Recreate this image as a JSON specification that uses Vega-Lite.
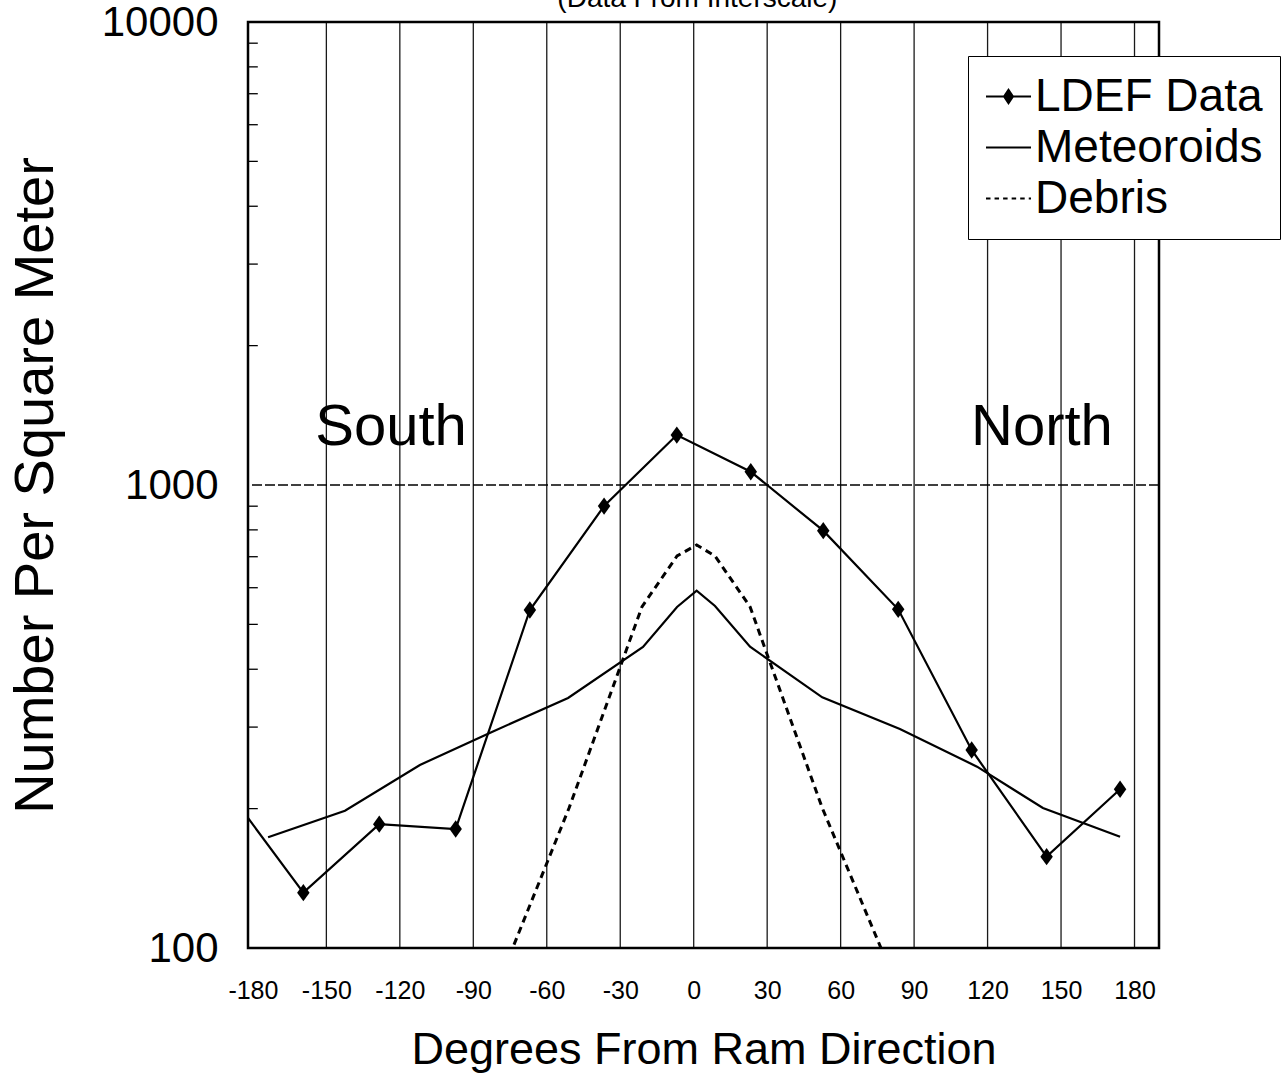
{
  "$schema": "https://vega.github.io/schema/vega-lite/v6.json",
  "width": 911,
  "height": 926,
  "autosize": {"type": "none"},
  "padding": {"left": 248, "top": 22, "right": 123, "bottom": 135},
  "background": "white",
  "config": {
    "font": "Liberation Sans",
    "view": {"stroke": "black", "strokeWidth": 2.5},
    "axis": {"labelColor": "black", "titleColor": "black", "labelFont": "Liberation Sans", "titleFont": "Liberation Sans", "titleFontWeight": "normal"}
  },
  "datasets": {
    "curves": [
      {"series": "LDEF Data", "angle": -182, "value": 190.9},
      {"series": "LDEF Data", "angle": -159.4, "value": 131.7},
      {"series": "LDEF Data", "angle": -128.4, "value": 185.1},
      {"series": "LDEF Data", "angle": -97.2, "value": 180.7},
      {"series": "LDEF Data", "angle": -66.9, "value": 537},
      {"series": "LDEF Data", "angle": -36.6, "value": 900.5},
      {"series": "LDEF Data", "angle": -6.9, "value": 1282},
      {"series": "LDEF Data", "angle": 23.3, "value": 1068},
      {"series": "LDEF Data", "angle": 52.9, "value": 796.8},
      {"series": "LDEF Data", "angle": 83.5, "value": 538.9},
      {"series": "LDEF Data", "angle": 113.5, "value": 267.7},
      {"series": "LDEF Data", "angle": 144.1, "value": 157.5},
      {"series": "LDEF Data", "angle": 174.1, "value": 220.2},
      {"series": "Meteoroids", "angle": -173.8, "value": 173.4},
      {"series": "Meteoroids", "angle": -142.4, "value": 197.9},
      {"series": "Meteoroids", "angle": -111.8, "value": 248.5},
      {"series": "Meteoroids", "angle": -82.4, "value": 292.8},
      {"series": "Meteoroids", "angle": -51.3, "value": 346.7},
      {"series": "Meteoroids", "angle": -20.7, "value": 446.8},
      {"series": "Meteoroids", "angle": -6.8, "value": 545.2},
      {"series": "Meteoroids", "angle": 1.2, "value": 591.1},
      {"series": "Meteoroids", "angle": 8.7, "value": 548},
      {"series": "Meteoroids", "angle": 23.0, "value": 447.5},
      {"series": "Meteoroids", "angle": 52.5, "value": 347.9},
      {"series": "Meteoroids", "angle": 84.2, "value": 297.2},
      {"series": "Meteoroids", "angle": 115.7, "value": 246.4},
      {"series": "Meteoroids", "angle": 142.6, "value": 200.6},
      {"series": "Meteoroids", "angle": 174.1, "value": 173.9},
      {"series": "Debris", "angle": -80.7, "value": 81.5},
      {"series": "Debris", "angle": -50.9, "value": 200.6},
      {"series": "Debris", "angle": -21.1, "value": 546},
      {"series": "Debris", "angle": -6.8, "value": 702.5},
      {"series": "Debris", "angle": 1.2, "value": 742},
      {"series": "Debris", "angle": 8.7, "value": 702.5},
      {"series": "Debris", "angle": 23.0, "value": 546},
      {"series": "Debris", "angle": 52.5, "value": 200.6},
      {"series": "Debris", "angle": 83.5, "value": 81.5}
    ],
    "vgrid": [
      {"angle": -150}, {"angle": -120}, {"angle": -90}, {"angle": -60}, {"angle": -30}, {"angle": 0},
      {"angle": 30}, {"angle": 60}, {"angle": 90}, {"angle": 120}, {"angle": 150}, {"angle": 180}
    ],
    "hgrid": [{"value": 1000}],
    "minor": [
      {"value": 200}, {"value": 300}, {"value": 400}, {"value": 500}, {"value": 600}, {"value": 700}, {"value": 800}, {"value": 900},
      {"value": 2000}, {"value": 3000}, {"value": 4000}, {"value": 5000}, {"value": 6000}, {"value": 7000}, {"value": 8000}, {"value": 9000}
    ],
    "notes": [
      {"label": "South", "angle": -123.6, "value": 1220},
      {"label": "North", "angle": 142.2, "value": 1220}
    ],
    "heading": [
      {"label": "(Data From Interscale)", "angle": 1.5, "value": 10800}
    ]
  },
  "layer": [
    {
      "data": {"name": "vgrid"},
      "mark": {"type": "rule", "color": "black", "strokeWidth": 1.3, "opacity": 0.9},
      "encoding": {
        "x": {
          "field": "angle", "type": "quantitative",
          "scale": {"domain": [-182, 190], "nice": false, "zero": false},
          "axis": {
            "values": [-180, -150, -120, -90, -60, -30, 0, 30, 60, 90, 120, 150, 180],
            "labelExpr": "'' + datum.value",
            "grid": false, "ticks": false, "domain": false,
            "labelFontSize": 25, "labelPadding": 30, "labelFlush": false, "labelOverlap": false,
            "title": "Degrees From Ram Direction", "titleFontSize": 45, "titlePadding": 24
          }
        }
      }
    },
    {
      "data": {"name": "hgrid"},
      "mark": {"type": "rule", "color": "black", "strokeWidth": 1.3, "strokeDash": [10, 3]},
      "encoding": {
        "y": {
          "field": "value", "type": "quantitative",
          "scale": {"type": "log", "domain": [100, 10000], "nice": false},
          "axis": {
            "values": [100, 1000, 10000], "format": "d",
            "grid": false, "ticks": false, "domain": false,
            "labelFontSize": 42, "labelPadding": 30,
            "title": "Number Per Square Meter", "titleFontSize": 56, "titlePadding": 37
          }
        }
      }
    },
    {
      "data": {"name": "minor"},
      "mark": {"type": "rule", "color": "black", "strokeWidth": 1.3},
      "encoding": {
        "y": {
          "field": "value", "type": "quantitative",
          "scale": {"type": "log", "domain": [100, 10000], "nice": false},
          "axis": {
            "values": [100, 1000, 10000], "format": "d",
            "grid": false, "ticks": false, "domain": false,
            "labelFontSize": 42, "labelPadding": 30,
            "title": "Number Per Square Meter", "titleFontSize": 56, "titlePadding": 37
          }
        },
        "x": {
          "datum": -182, "type": "quantitative",
          "scale": {"domain": [-182, 190], "nice": false, "zero": false},
          "axis": {
            "values": [-180, -150, -120, -90, -60, -30, 0, 30, 60, 90, 120, 150, 180],
            "labelExpr": "'' + datum.value",
            "grid": false, "ticks": false, "domain": false,
            "labelFontSize": 25, "labelPadding": 30, "labelFlush": false, "labelOverlap": false,
            "title": "Degrees From Ram Direction", "titleFontSize": 45, "titlePadding": 24
          }
        },
        "x2": {"datum": -178}
      }
    },
    {
      "data": {"name": "curves"},
      "transform": [{"filter": "datum.series === 'LDEF Data'"}],
      "mark": {"type": "line", "color": "black", "strokeWidth": 2.2, "clip": true},
      "encoding": {
        "x": {
          "field": "angle", "type": "quantitative",
          "scale": {"domain": [-182, 190], "nice": false, "zero": false},
          "axis": {
            "values": [-180, -150, -120, -90, -60, -30, 0, 30, 60, 90, 120, 150, 180],
            "labelExpr": "'' + datum.value",
            "grid": false, "ticks": false, "domain": false,
            "labelFontSize": 25, "labelPadding": 30, "labelFlush": false, "labelOverlap": false,
            "title": "Degrees From Ram Direction", "titleFontSize": 45, "titlePadding": 24
          }
        },
        "y": {
          "field": "value", "type": "quantitative",
          "scale": {"type": "log", "domain": [100, 10000], "nice": false},
          "axis": {
            "values": [100, 1000, 10000], "format": "d",
            "grid": false, "ticks": false, "domain": false,
            "labelFontSize": 42, "labelPadding": 30,
            "title": "Number Per Square Meter", "titleFontSize": 56, "titlePadding": 37
          }
        }
      }
    },
    {
      "data": {"name": "curves"},
      "transform": [{"filter": "datum.series === 'Meteoroids'"}],
      "mark": {"type": "line", "color": "black", "strokeWidth": 2.2, "clip": true},
      "encoding": {
        "x": {
          "field": "angle", "type": "quantitative",
          "scale": {"domain": [-182, 190], "nice": false, "zero": false},
          "axis": {
            "values": [-180, -150, -120, -90, -60, -30, 0, 30, 60, 90, 120, 150, 180],
            "labelExpr": "'' + datum.value",
            "grid": false, "ticks": false, "domain": false,
            "labelFontSize": 25, "labelPadding": 30, "labelFlush": false, "labelOverlap": false,
            "title": "Degrees From Ram Direction", "titleFontSize": 45, "titlePadding": 24
          }
        },
        "y": {
          "field": "value", "type": "quantitative",
          "scale": {"type": "log", "domain": [100, 10000], "nice": false},
          "axis": {
            "values": [100, 1000, 10000], "format": "d",
            "grid": false, "ticks": false, "domain": false,
            "labelFontSize": 42, "labelPadding": 30,
            "title": "Number Per Square Meter", "titleFontSize": 56, "titlePadding": 37
          }
        }
      }
    },
    {
      "data": {"name": "curves"},
      "transform": [{"filter": "datum.series === 'Debris'"}],
      "mark": {"type": "line", "color": "black", "strokeWidth": 3, "strokeDash": [7, 5], "clip": true},
      "encoding": {
        "x": {
          "field": "angle", "type": "quantitative",
          "scale": {"domain": [-182, 190], "nice": false, "zero": false},
          "axis": {
            "values": [-180, -150, -120, -90, -60, -30, 0, 30, 60, 90, 120, 150, 180],
            "labelExpr": "'' + datum.value",
            "grid": false, "ticks": false, "domain": false,
            "labelFontSize": 25, "labelPadding": 30, "labelFlush": false, "labelOverlap": false,
            "title": "Degrees From Ram Direction", "titleFontSize": 45, "titlePadding": 24
          }
        },
        "y": {
          "field": "value", "type": "quantitative",
          "scale": {"type": "log", "domain": [100, 10000], "nice": false},
          "axis": {
            "values": [100, 1000, 10000], "format": "d",
            "grid": false, "ticks": false, "domain": false,
            "labelFontSize": 42, "labelPadding": 30,
            "title": "Number Per Square Meter", "titleFontSize": 56, "titlePadding": 37
          }
        }
      }
    },
    {
      "data": {"name": "curves"},
      "transform": [{"filter": "datum.series === 'LDEF Data' && datum.angle > -180"}],
      "mark": {"type": "point", "shape": "M0,-1L0.72,0L0,1L-0.72,0Z", "filled": true, "color": "black", "opacity": 1, "size": 300},
      "encoding": {
        "x": {
          "field": "angle", "type": "quantitative",
          "scale": {"domain": [-182, 190], "nice": false, "zero": false},
          "axis": {
            "values": [-180, -150, -120, -90, -60, -30, 0, 30, 60, 90, 120, 150, 180],
            "labelExpr": "'' + datum.value",
            "grid": false, "ticks": false, "domain": false,
            "labelFontSize": 25, "labelPadding": 30, "labelFlush": false, "labelOverlap": false,
            "title": "Degrees From Ram Direction", "titleFontSize": 45, "titlePadding": 24
          }
        },
        "y": {
          "field": "value", "type": "quantitative",
          "scale": {"type": "log", "domain": [100, 10000], "nice": false},
          "axis": {
            "values": [100, 1000, 10000], "format": "d",
            "grid": false, "ticks": false, "domain": false,
            "labelFontSize": 42, "labelPadding": 30,
            "title": "Number Per Square Meter", "titleFontSize": 56, "titlePadding": 37
          }
        }
      }
    },
    {
      "data": {"name": "curves"},
      "mark": {"type": "point", "filled": false, "color": "black", "opacity": 0, "size": 2025, "strokeWidth": 2},
      "encoding": {
        "x": {
          "field": "angle", "type": "quantitative",
          "scale": {"domain": [-182, 190], "nice": false, "zero": false},
          "axis": {
            "values": [-180, -150, -120, -90, -60, -30, 0, 30, 60, 90, 120, 150, 180],
            "labelExpr": "'' + datum.value",
            "grid": false, "ticks": false, "domain": false,
            "labelFontSize": 25, "labelPadding": 30, "labelFlush": false, "labelOverlap": false,
            "title": "Degrees From Ram Direction", "titleFontSize": 45, "titlePadding": 24
          }
        },
        "y": {
          "field": "value", "type": "quantitative",
          "scale": {"type": "log", "domain": [100, 10000], "nice": false},
          "axis": {
            "values": [100, 1000, 10000], "format": "d",
            "grid": false, "ticks": false, "domain": false,
            "labelFontSize": 42, "labelPadding": 30,
            "title": "Number Per Square Meter", "titleFontSize": 56, "titlePadding": 37
          }
        },
        "shape": {
          "field": "series", "type": "nominal",
          "scale": {
            "domain": ["LDEF Data", "Meteoroids", "Debris"],
            "range": [
              "M-1,0H1M0,-0.3L0.2,0L0,0.3L-0.2,0ZM0,-0.2L0.13,0L0,0.2L-0.13,0ZM0,-0.1L0.07,0L0,0.1L-0.07,0Z",
              "M-1,0H1",
              "M-1,0H-0.8M-0.62,0H-0.42M-0.24,0H-0.04M0.14,0H0.34M0.52,0H0.72M0.9,0H1"
            ]
          },
          "legend": {
            "title": null,
            "orient": "none",
            "legendX": 720,
            "legendY": 34,
            "padding": 17,
            "fillColor": "white",
            "strokeColor": "black",
            "labelFontSize": 46,
            "labelFont": "Liberation Sans",
            "labelColor": "black",
            "labelOffset": 3,
            "labelLimit": 400,
            "rowPadding": 4,
            "symbolSize": 2025,
            "symbolOpacity": 1,
            "symbolStrokeColor": "black",
            "symbolStrokeWidth": 2,
            "encode": {
              "legend": {"update": {"strokeWidth": {"value": 2}}},
              "symbols": {"update": {"opacity": {"value": 1}, "stroke": {"value": "black"}, "strokeWidth": {"value": 2}}}
            }
          }
        }
      }
    },
    {
      "data": {"name": "notes"},
      "mark": {"type": "text", "fontSize": 58, "font": "Liberation Sans", "color": "black", "baseline": "alphabetic", "align": "center"},
      "encoding": {
        "x": {
          "field": "angle", "type": "quantitative",
          "scale": {"domain": [-182, 190], "nice": false, "zero": false},
          "axis": {
            "values": [-180, -150, -120, -90, -60, -30, 0, 30, 60, 90, 120, 150, 180],
            "labelExpr": "'' + datum.value",
            "grid": false, "ticks": false, "domain": false,
            "labelFontSize": 25, "labelPadding": 30, "labelFlush": false, "labelOverlap": false,
            "title": "Degrees From Ram Direction", "titleFontSize": 45, "titlePadding": 24
          }
        },
        "y": {
          "field": "value", "type": "quantitative",
          "scale": {"type": "log", "domain": [100, 10000], "nice": false},
          "axis": {
            "values": [100, 1000, 10000], "format": "d",
            "grid": false, "ticks": false, "domain": false,
            "labelFontSize": 42, "labelPadding": 30,
            "title": "Number Per Square Meter", "titleFontSize": 56, "titlePadding": 37
          }
        },
        "text": {"field": "label"}
      }
    },
    {
      "data": {"name": "heading"},
      "mark": {"type": "text", "fontSize": 28, "font": "Liberation Sans", "color": "black", "baseline": "alphabetic", "align": "center", "clip": false},
      "encoding": {
        "x": {
          "field": "angle", "type": "quantitative",
          "scale": {"domain": [-182, 190], "nice": false, "zero": false},
          "axis": {
            "values": [-180, -150, -120, -90, -60, -30, 0, 30, 60, 90, 120, 150, 180],
            "labelExpr": "'' + datum.value",
            "grid": false, "ticks": false, "domain": false,
            "labelFontSize": 25, "labelPadding": 30, "labelFlush": false, "labelOverlap": false,
            "title": "Degrees From Ram Direction", "titleFontSize": 45, "titlePadding": 24
          }
        },
        "y": {
          "field": "value", "type": "quantitative",
          "scale": {"type": "log", "domain": [100, 10000], "nice": false},
          "axis": {
            "values": [100, 1000, 10000], "format": "d",
            "grid": false, "ticks": false, "domain": false,
            "labelFontSize": 42, "labelPadding": 30,
            "title": "Number Per Square Meter", "titleFontSize": 56, "titlePadding": 37
          }
        },
        "text": {"field": "label"}
      }
    }
  ]
}
